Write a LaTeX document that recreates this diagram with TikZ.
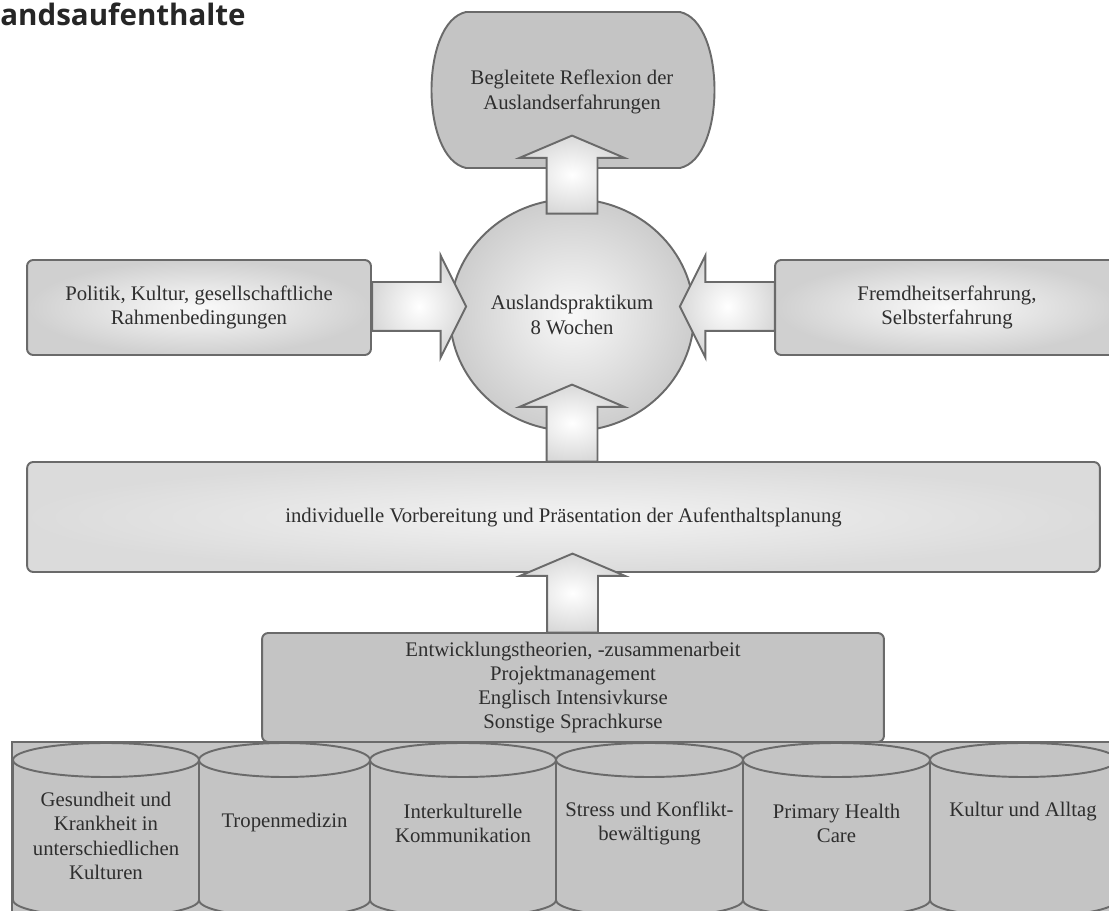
\documentclass[tikz,border=0pt]{standalone}
\usepackage{fontspec}
\setmainfont{Liberation Serif}
\newfontfamily\headfont{Open Sans}
\usetikzlibrary{shapes.geometric,shapes.arrows}

\definecolor{lineg}{HTML}{6A6A6A}
\definecolor{boxg}{HTML}{C4C4C4}
\definecolor{txtg}{HTML}{2E2E2E}

\begin{document}
\begin{tikzpicture}[
        x=0.02cm, y=-0.02cm,
        txt/.style={align=center, text=txtg, font=\fontsize{11.8}{13.8}\selectfont, inner sep=0pt},
        box/.style={txt, rectangle, rounded corners=3.5pt, draw=lineg, line width=1.1pt},
        shadebox/.style={box, shading=radial, inner color=white!96!gray, outer color=boxg!80!white},
        flatbox/.style={box, fill=boxg},
        cyl/.style={fill=boxg, draw=lineg, line width=1.1pt},
        fatarrow/.style={single arrow, draw=lineg, line width=1.1pt, shading=radial, inner color=white, outer color=boxg!65!white,
            inner xsep=0pt, inner ysep=0.49cm, single arrow head extend=0.54cm, single arrow tip angle=134, single arrow head indent=0pt},
        sidearrow/.style={fatarrow, inner ysep=0.47cm, single arrow head extend=0.53cm, single arrow tip angle=127}
    ]

    \useasboundingbox (0,0) rectangle (1109,911);
    \clip (0,0) rectangle (1109,911);

    % Heading (cut off)
    \node[anchor=base west, inner sep=0pt, text=black!85, font=\headfont\bfseries\fontsize{16.8}{20}\selectfont] (heading) at (0,26) {andsaufenthalte};

    % Top: reflection
    \filldraw[fill=boxg, draw=lineg, line width=1.1pt] (466,12) -- (680,12) .. controls (726,22) and (726,158) .. (680,168)
        -- (466,168) .. controls (420,158) and (420,22) .. (466,12) -- cycle;
    \node[txt] (reflex) at (572,92) {Begleitete Reflexion der\\Auslandserfahrungen};

    % Middle row
    \node[ellipse, draw=lineg, line width=1.1pt, shading=radial, inner color=white!95!gray, outer color=boxg!85!white,
        minimum width=4.88cm, minimum height=4.64cm, txt] (praktikum) at (572,315) {Auslandspraktikum\\8 Wochen};
    \node[shadebox, minimum width=6.88cm, minimum height=1.9cm] (politik) at (199,307.5) {Politik, Kultur, gesellschaftliche\\Rahmenbedingungen};
    \node[shadebox, minimum width=6.88cm, minimum height=1.9cm] (fremdheit) at (947,307.5) {Fremdheitserfahrung,\\Selbsterfahrung};

    % Preparation
    \node[box, shading=radial, inner color=gray!10, outer color=gray!28, minimum width=21.46cm, minimum height=2.2cm] (vorbereitung) at (563.5,517)
        {individuelle Vorbereitung und Präsentation der Aufenthaltsplanung};
    \node[flatbox, minimum width=12.44cm, minimum height=2.18cm] (kurse) at (573,687.5)
        {Entwicklungstheorien, -zusammenarbeit\\Projektmanagement\\Englisch Intensivkurse\\Sonstige Sprachkurse};

    % Modules (cylinders)
    \filldraw[cyl] (12,742) rectangle (1130,940);
    \foreach \xl/\xr in {13/199, 199/370, 370/556, 556/743, 743/930, 930/1117} {
        \pgfmathsetmacro\cx{(\xl+\xr)/2}
        \pgfmathsetmacro\rx{(\xr-\xl)/2}
        \pgfmathsetmacro\kx{0.552*\rx}
        \filldraw[cyl] (\xl,760) -- (\xl,900) .. controls (\xl,909.4) and (\cx-\kx,917) .. (\cx,917)
            .. controls (\cx+\kx,917) and (\xr,909.4) .. (\xr,900) -- (\xr,760);
        \draw[cyl] (\cx,760) ellipse [x radius=\rx, y radius=17];
    }
    \node[txt] (gesundheit) at (106,836) {Gesundheit und\\Krankheit in\\unterschiedlichen\\Kulturen};
    \node[txt] (tropen) at (284.5,823) {Tropenmedizin};
    \node[txt] (interkult) at (463,823.5) {Interkulturelle\\Kommunikation};
    \node[txt] (stress) at (649.5,823.5) {Stress und Konflikt-\\bewältigung};
    \node[txt] (phc) at (836.5,823.5) {Primary Health\\Care};
    \node[txt] (alltag) at (1023,812) {Kultur und Alltag};

    % Arrows
    \node[fatarrow, rotate=90, minimum height=1.56cm] (arr-reflex) at (572,180) {};
    \node[fatarrow, rotate=90, minimum height=1.54cm] (arr-praktikum) at (572,428.5) {};
    \node[fatarrow, rotate=90, minimum height=1.58cm] (arr-vorbereitung) at (572.5,598.5) {};
    \node[sidearrow, minimum height=1.88cm] (arr-politik) at (413,306.5) {};
    \node[sidearrow, rotate=180, minimum height=1.9cm] (arr-fremdheit) at (733.5,306.5) {};

\end{tikzpicture}
\end{document}
